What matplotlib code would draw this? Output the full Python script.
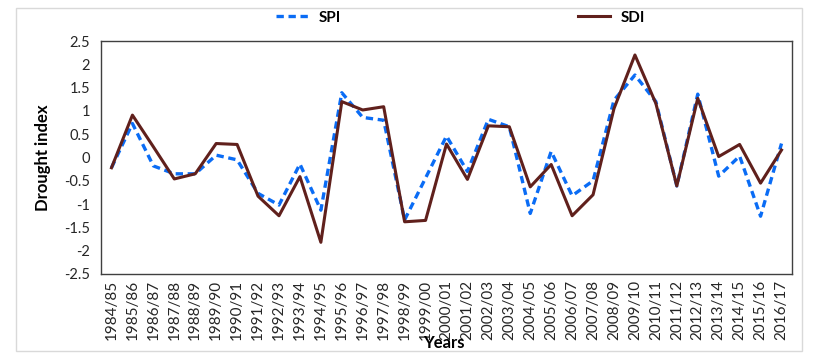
import matplotlib
matplotlib.use('Agg')
import matplotlib.pyplot as plt
from matplotlib.patches import Rectangle
import numpy as np

plt.rcParams['font.family'] = ['Lato', 'DejaVu Sans']

years = ['1984/85', '1985/86', '1986/87', '1987/88', '1988/89', '1989/90', '1990/91',
         '1991/92', '1992/93', '1993/94', '1994/95', '1995/96', '1996/97', '1997/98',
         '1998/99', '1999/00', '2000/01', '2001/02', '2002/03', '2003/04', '2004/05',
         '2005/06', '2006/07', '2007/08', '2008/09', '2009/10', '2010/11', '2011/12',
         '2012/13', '2013/14', '2014/15', '2015/16', '2016/17']

spi = [-0.22, 0.73, -0.18, -0.35, -0.35, 0.05, -0.05, -0.77, -1.02, -0.14, -1.13,
       1.39, 0.86, 0.80, -1.34, -0.44, 0.46, -0.30, 0.82, 0.66, -1.20, 0.13, -0.82,
       -0.50, 1.23, 1.77, 1.20, -0.61, 1.36, -0.40, 0.03, -1.26, 0.30]

sdi = [-0.22, 0.91, 0.23, -0.46, -0.35, 0.30, 0.28, -0.83, -1.25, -0.41, -1.82,
       1.20, 1.02, 1.09, -1.38, -1.35, 0.29, -0.47, 0.68, 0.66, -0.63, -0.15, -1.25,
       -0.80, 1.05, 2.20, 1.16, -0.61, 1.27, 0.02, 0.28, -0.55, 0.16]

yticks = [2.5, 2, 1.5, 1, 0.5, 0, -0.5, -1, -1.5, -2, -2.5]

fig = plt.figure(figsize=(8.26, 3.63), dpi=100)
# light chart-area frame
fig.patches.append(Rectangle((16 / 826, 1 - 351 / 363), 786 / 826, 343 / 363,
                             transform=fig.transFigure, fill=False,
                             edgecolor='#d9d9d9', lw=1))

ax = fig.add_axes([0.1223, 0.2452, 0.8365, 0.6418])
x = np.arange(len(years))
ax.plot(x, spi, color='#0a6cf5', lw=2.4, ls=(0, (2.2, 1.4)), label='SPI', zorder=3)
ax.plot(x, sdi, color='#60201c', lw=2.2, label='SDI', zorder=4)

ax.set_xlim(-0.5, len(years) - 0.5)
ax.set_ylim(-2.5, 2.5)
ax.set_yticks(yticks)
ax.set_yticklabels([f'{t:g}' for t in yticks], fontsize=10.5, color='#262626')
ax.set_xticks(x)
ax.set_xticklabels(years, rotation=90, fontsize=11, color='#262626')
ax.tick_params(axis='y', length=0, pad=8)
ax.tick_params(axis='x', length=0, pad=4)
for s in ax.spines.values():
    s.set_color('#404040')
    s.set_linewidth(1)

ax.set_ylabel('Drought index', fontsize=12, fontweight='bold', labelpad=9)
fig.text(444 / 826, 1 - 343 / 363, 'Years', fontsize=12, fontweight='bold',
         ha='center', va='center')

leg = ax.legend(loc='center', bbox_to_anchor=(0.52, 1.1), ncol=2, frameon=False,
                fontsize=11, handlelength=2.1, columnspacing=15.5, handletextpad=0.7)
for t in leg.get_texts():
    t.set_fontweight('bold')

plt.savefig('out.png', dpi=100)
